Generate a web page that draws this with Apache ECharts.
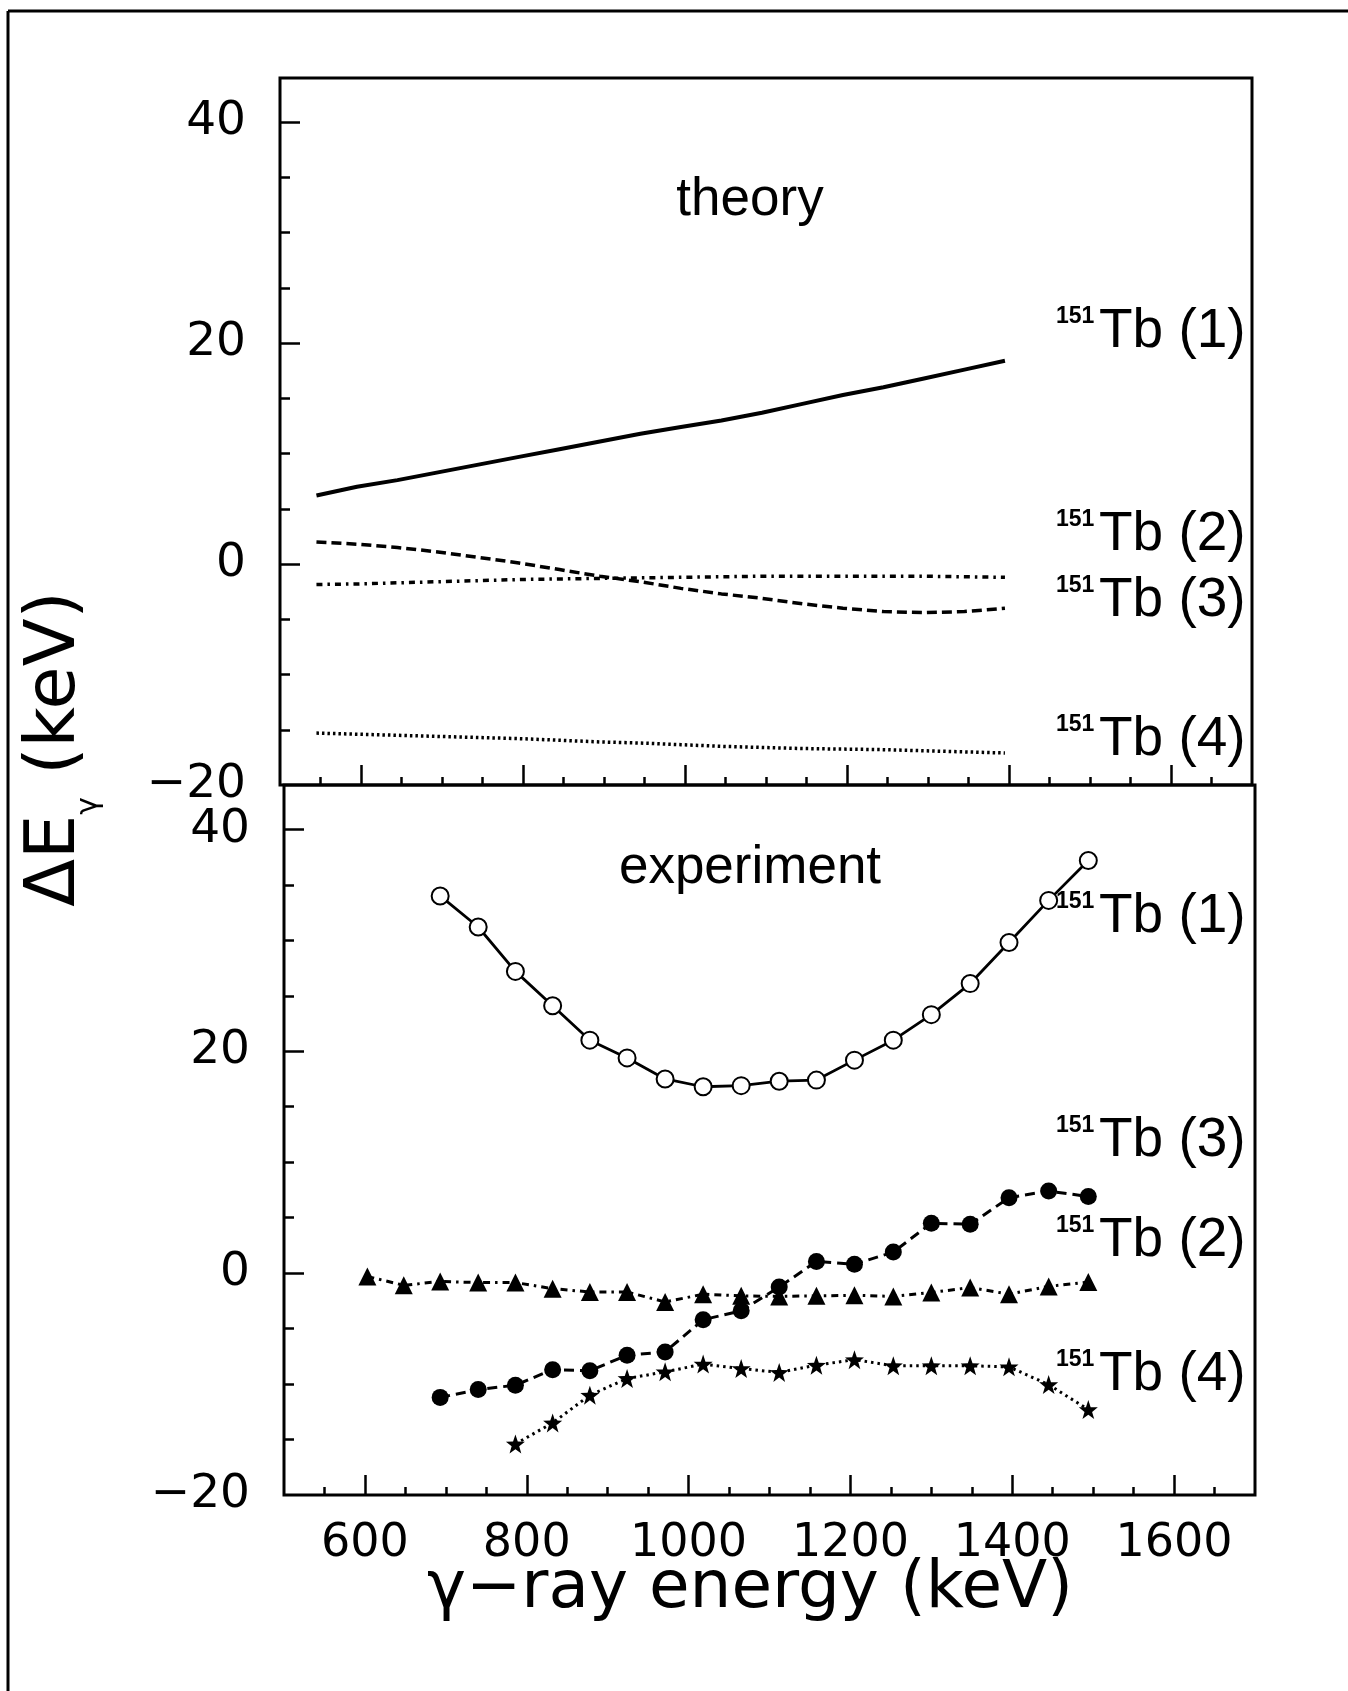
<!DOCTYPE html>
<html><head><meta charset="utf-8">
<script src="https://cdn.jsdelivr.net/npm/echarts@6/dist/echarts.min.js"></script>
<style>html,body{margin:0;padding:0;background:#fff}#c{width:1348px;height:1691px}</style>
</head><body><div id="c"></div>
<script>
// ---- data ----
const theoryX = [545,595,645,695,745,795,845,895,945,995,1045,1095,1145,1195,1245,1295,1345,1395];
const theory1 = [6.2,7.0,7.6,8.3,9.0,9.7,10.4,11.1,11.8,12.4,13.0,13.7,14.5,15.3,16.0,16.8,17.6,18.4];
const theory2 = [2.0,1.8,1.5,1.1,0.6,0.1,-0.5,-1.1,-1.6,-2.2,-2.7,-3.1,-3.6,-4.0,-4.3,-4.4,-4.3,-4.0];
const theory3 = [-1.85,-1.8,-1.7,-1.6,-1.5,-1.4,-1.35,-1.3,-1.25,-1.2,-1.15,-1.1,-1.1,-1.1,-1.1,-1.1,-1.15,-1.2];
const theory4 = [-15.3,-15.4,-15.5,-15.6,-15.7,-15.8,-15.95,-16.1,-16.2,-16.35,-16.5,-16.6,-16.7,-16.75,-16.8,-16.9,-17.0,-17.1];

const expX  = [693,740,786,832,878,924,971,1018,1065,1112,1158,1205,1253,1300,1348,1396,1445,1494];
const exp1  = [34.0,31.2,27.2,24.1,21.0,19.4,17.5,16.8,16.9,17.3,17.4,19.2,21.0,23.3,26.1,29.8,33.6,37.2];
const exp2  = [-11.2,-10.5,-10.1,-8.7,-8.8,-7.4,-7.1,-4.2,-3.4,-1.25,1.05,0.8,1.9,4.5,4.4,6.8,7.4,6.9];
const exp3X = [603,648,693,740,786,832,878,924,971,1018,1065,1112,1158,1205,1253,1300,1348,1396,1445,1494];
const exp3  = [-0.3,-1.1,-0.75,-0.85,-0.85,-1.4,-1.7,-1.7,-2.6,-1.9,-2.05,-2.1,-2.05,-2.0,-2.1,-1.75,-1.3,-1.9,-1.2,-0.8];
const exp4X = [786,832,878,924,971,1018,1065,1112,1158,1205,1253,1300,1348,1396,1445,1494];
const exp4  = [-15.4,-13.5,-11.0,-9.5,-8.9,-8.2,-8.6,-8.95,-8.3,-7.8,-8.35,-8.35,-8.35,-8.45,-10.05,-12.3];

const xMajor = [600,800,1000,1200,1400,1600];
const xMinor = [550,650,700,750,850,900,950,1050,1100,1150,1250,1300,1350,1450,1500,1550,1650];
const yLabels = [-20,0,20,40];
const yMajor = [0,20,40];
const yMinor = [-15,-10,-5,5,10,15,25,30,35];

const topLabels = ['(1)','(2)','(3)','(4)'];
const botLabels = ['(1)','(3)','(2)','(4)'];

// ---- chart ----
const FF = '"Liberation Sans", Arial, Helvetica, sans-serif';
const FD = '"DejaVu Sans", "Liberation Sans", sans-serif';
const pair = (xs, ys) => xs.map((x, i) => [x, ys[i]]);
const fmt = v => (v < 0 ? '\u2212' + Math.abs(v) : String(v));
const BLACK = '#000';

const grids = [
  {left: 280, top: 78, width: 972, height: 707},
  {left: 284, top: 785, width: 971, height: 710}
];

function xAxes(g, labels) {
  return [
    {gridIndex: g, type: 'value', min: 500, max: 1700, position: 'bottom',
     axisLine: {show: false, onZero: false}, splitLine: {show: false},
     axisTick: {show: true, inside: true, length: 20, customValues: xMajor, lineStyle: {color: BLACK, width: 2.5}},
     axisLabel: labels ? {show: true, customValues: xMajor, margin: 26, fontSize: 46, fontFamily: FD, color: BLACK, formatter: v => String(v)} : {show: false}},
    {gridIndex: g, type: 'value', min: 500, max: 1700, position: 'bottom',
     axisLine: {show: false, onZero: false}, splitLine: {show: false},
     axisTick: {show: true, inside: true, length: 8, customValues: xMinor, lineStyle: {color: BLACK, width: 2.5}},
     axisLabel: {show: false}}
  ];
}
function yAxes(g) {
  return [
    {gridIndex: g, type: 'value', min: -20, max: 44, position: 'left',
     axisLine: {show: false, onZero: false}, splitLine: {show: false},
     axisTick: {show: true, inside: true, length: 20, customValues: yMajor, lineStyle: {color: BLACK, width: 2.5}},
     axisLabel: {show: true, customValues: yLabels, margin: 34, fontSize: 47, fontFamily: FD, color: BLACK, formatter: fmt}},
    {gridIndex: g, type: 'value', min: -20, max: 44, position: 'left',
     axisLine: {show: false, onZero: false}, splitLine: {show: false},
     axisTick: {show: true, inside: true, length: 10, customValues: yMinor, lineStyle: {color: BLACK, width: 2.5}},
     axisLabel: {show: false}}
  ];
}

const starPath = 'path://M0,-10 L2.35,-3.24 L9.51,-3.09 L3.8,1.24 L5.88,8.09 L0,4 L-5.88,8.09 L-3.8,1.24 L-9.51,-3.09 L-2.35,-3.24 Z';

function line(xi, yi, data, width, type, extra) {
  return Object.assign({
    type: 'line', xAxisIndex: xi, yAxisIndex: yi, data: data,
    showSymbol: false, symbol: 'none', animation: false, silent: true,
    lineStyle: {color: BLACK, width: width, type: type, cap: 'butt'}
  }, extra || {});
}

const series = [
  line(0, 0, pair(theoryX, theory1), 4, 'solid'),
  line(0, 0, pair(theoryX, theory2), 3.5, [10, 5]),
  line(0, 0, pair(theoryX, theory3), 3.5, [6, 5, 2.5, 5]),
  line(0, 0, pair(theoryX, theory4), 3.5, [2.5, 3]),

  line(2, 2, pair(expX, exp1), 2.8, 'solid',
    {showSymbol: true, symbol: 'circle', symbolSize: 17, itemStyle: {color: '#fff', borderColor: BLACK, borderWidth: 2}}),
  line(2, 2, pair(expX, exp2), 3, [10, 6],
    {showSymbol: true, symbol: 'circle', symbolSize: 17, itemStyle: {color: BLACK}}),
  line(2, 2, pair(exp3X, exp3), 3, [7, 5, 2.5, 5],
    {showSymbol: true, symbol: 'triangle', symbolSize: 18, itemStyle: {color: BLACK}}),
  line(2, 2, pair(exp4X, exp4), 3, [2.5, 4],
    {showSymbol: true, symbol: starPath, symbolSize: 19, itemStyle: {color: BLACK}})
];

function tbLabel(capY, tag) {
  return {
    type: 'group', children: [
      {type: 'text', x: 1056, y: capY - 12, style: {text: '151', fontSize: 23, fontWeight: 'bold', fontFamily: FF, fill: BLACK, align: 'left', verticalAlign: 'middle'}},
      {type: 'text', x: 1099, y: capY + 3, style: {text: 'Tb ' + tag, fontSize: 55, fontFamily: FF, fill: BLACK, align: 'left', verticalAlign: 'middle'}}
    ]
  };
}
const topY = [329, 532, 598, 737];
const botY = [914, 1138, 1238, 1372];

const graphics = [
  {type: 'line', shape: {x1: 8, y1: 11, x2: 1348, y2: 11}, style: {stroke: BLACK, lineWidth: 3}},
  {type: 'line', shape: {x1: 8, y1: 11, x2: 8, y2: 1691}, style: {stroke: BLACK, lineWidth: 3}},
  {type: 'text', x: 750, y: 200, style: {text: 'theory', fontSize: 53, fontFamily: FF, fill: BLACK, align: 'center', verticalAlign: 'middle'}},
  {type: 'text', x: 750, y: 868, style: {text: 'experiment', fontSize: 53, fontFamily: FF, fill: BLACK, align: 'center', verticalAlign: 'middle'}},
  {type: 'text', x: 750, y: 1590, style: {text: '\u03b3\u2212ray energy (keV)', fontSize: 66, fontFamily: FD, fill: BLACK, align: 'center', verticalAlign: 'middle'}},
  {type: 'text', x: 56, y: 749, rotation: Math.PI / 2,
   style: {text: '{a|\u0394E}{b|\u03b3}{a| (keV)}', fill: BLACK, align: 'center', verticalAlign: 'middle',
     rich: {a: {fontSize: 70, lineHeight: 96, fontFamily: FD, fill: BLACK},
            b: {fontSize: 30, lineHeight: 30, fontFamily: FD, fill: BLACK, verticalAlign: 'bottom'}}}}
];
topLabels.forEach((t, i) => graphics.push(tbLabel(topY[i], t)));
botLabels.forEach((t, i) => graphics.push(tbLabel(botY[i], t)));

const chart = echarts.init(document.getElementById('c'), null, {renderer: 'canvas'});
chart.setOption({
  animation: false,
  backgroundColor: '#fff',
  grid: grids.map(g => Object.assign({show: true, borderColor: BLACK, borderWidth: 3, backgroundColor: 'transparent', containLabel: false}, g)),
  xAxis: [...xAxes(0, false), ...xAxes(1, true)],
  yAxis: [...yAxes(0), ...yAxes(1)],
  series: series,
  graphic: graphics
});
</script>
</body></html>
